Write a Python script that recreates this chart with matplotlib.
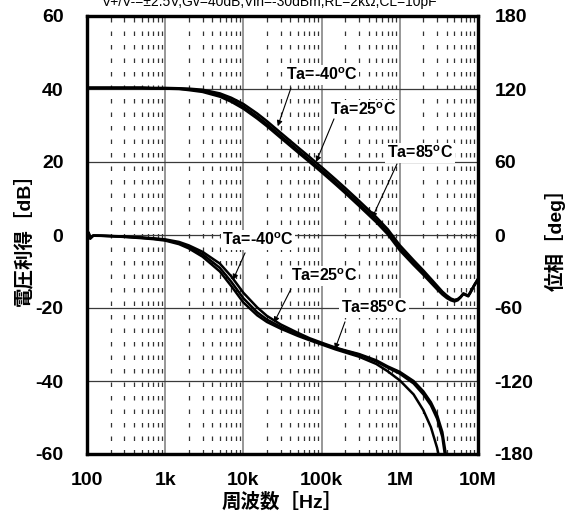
import matplotlib
matplotlib.use("Agg")
import matplotlib.pyplot as plt
from matplotlib.ticker import LogLocator, FixedLocator, FixedFormatter, NullFormatter

plt.rcParams['font.family'] = ['Liberation Sans', 'Noto Sans CJK JP', 'DejaVu Sans']
plt.rcParams['font.weight'] = 'bold'
plt.rcParams['axes.unicode_minus'] = False
plt.rcParams['mathtext.fontset'] = 'custom'
plt.rcParams['mathtext.rm'] = 'Liberation Sans:bold'
plt.rcParams['mathtext.bf'] = 'Liberation Sans:bold'

# ---- open-loop gain [dB] ----
freq_gain = [100, 150, 200, 300, 500, 700, 1e3, 1.5e3, 2e3, 3e3, 5e3, 7e3, 1e4, 1.5e4,
             2e4, 3e4, 5e4, 7e4, 1e5, 1.5e5, 2e5, 3e5, 5e5, 7e5, 1e6, 1.5e6, 2e6,
             2.5e6, 3e6, 3.5e6, 4e6, 4.5e6, 5e6, 5.5e6, 6e6, 6.5e6, 7e6, 7.5e6, 8e6,
             9e6, 1e7]
gain_m40 = [40.4, 40.4, 40.4, 40.4, 40.4, 40.3, 40.3, 40.2, 40.1, 39.8, 38.8, 37.6, 35.9,
            33.3, 31.2, 28.0, 24.0, 21.4, 18.6, 15.3, 12.9, 9.4, 4.9, 1.6, -2.8, -6.9,
            -9.7, -12.0, -13.9, -15.5, -16.6, -17.4, -17.8, -17.6, -17.0, -16.2, -16.5,
            -16.8, -15.8, -13.8, -12.2]
gain_25 = [40.3, 40.3, 40.3, 40.3, 40.3, 40.2, 40.2, 40.1, 39.9, 39.5, 38.3, 37.0, 35.2,
           32.5, 30.4, 27.2, 23.2, 20.6, 17.8, 14.5, 12.1, 8.6, 4.1, 0.8, -3.6, -7.6,
           -10.3, -12.6, -14.4, -15.9, -16.9, -17.6, -17.9, -17.6, -16.9, -16.0, -16.3,
           -16.6, -15.6, -13.6, -12.0]
gain_85 = [40.2, 40.2, 40.2, 40.2, 40.2, 40.1, 40.1, 40.0, 39.7, 39.2, 37.9, 36.5, 34.6,
           31.9, 29.8, 26.6, 22.6, 20.0, 17.2, 13.9, 11.5, 8.0, 3.5, 0.2, -4.2, -8.2,
           -10.9, -13.1, -14.9, -16.3, -17.3, -17.9, -18.2, -17.9, -17.1, -16.1, -16.4,
           -16.7, -15.7, -13.7, -12.1]

# ---- phase [deg] ----
freq_phase = [100, 105, 110, 120, 150, 200, 300, 500, 700, 1e3, 1.5e3, 2e3, 3e3, 5e3,
              7e3, 1e4, 1.5e4, 2e4, 3e4, 5e4, 7e4, 1e5, 1.5e5, 2e5, 3e5, 5e5, 7e5, 1e6,
              1.5e6, 2e6, 2.5e6, 3e6, 3.5e6, 4e6]
phase_m40 = [0, 2.0, -2.5, -0.4, -0.5, -0.8, -1.2, -2.0, -2.7, -3.6, -5.7, -8.5, -13.8,
             -23.5, -34, -47.5, -59.5, -66.5, -73.5, -80.5, -84.8, -88.5, -92.5, -94.8,
             -97.8, -103, -108, -112.5, -120, -128.5, -137.5, -148, -162, -186]
phase_25 = [0, 1.8, -2.8, -0.5, -0.6, -0.9, -1.4, -2.3, -3.0, -4.1, -6.6, -9.8, -15.8,
            -27, -38.5, -52, -63.5, -69.5, -75.5, -82, -85.8, -89.2, -93, -95.2, -98.3,
            -104, -109, -114, -122, -131, -140, -151, -166, -192]
phase_85 = [0, 1.6, -3.0, -0.6, -0.7, -1.0, -1.6, -2.6, -3.4, -4.6, -7.5, -11, -17.8,
            -30, -42, -55.5, -66, -71.5, -77, -83, -86.5, -90, -94, -96.5, -100, -106,
            -112, -119.5, -131, -144, -158, -175, -195, -210]

x_ticks = [1e2, 1e3, 1e4, 1e5, 1e6, 1e7]
x_ticklabels = ['100', '1k', '10k', '100k', '1M', '10M']
gain_ticks = [60, 40, 20, 0, -20, -40, -60]
phase_ticks = [180, 120, 60, 0, -60, -120, -180]

fig = plt.figure(figsize=(5.74, 5.12), dpi=100)
ax = fig.add_axes([87 / 574, 58 / 512, 391 / 574, 438 / 512])
ax2 = ax.twinx()

ax.set_xscale('log')
ax.set_xlim(1e2, 1e7)
ax.set_ylim(-60, 60)
ax2.set_ylim(-180, 180)

ax.xaxis.set_major_locator(FixedLocator(x_ticks))
ax.xaxis.set_major_formatter(FixedFormatter(x_ticklabels))
ax.xaxis.set_minor_locator(LogLocator(base=10, subs=[2, 3, 4, 5, 6, 7, 8, 9], numticks=20))
ax.xaxis.set_minor_formatter(NullFormatter())
ax.set_yticks(gain_ticks)
ax2.set_yticks(phase_ticks)

ax.set_axisbelow(True)
ax.xaxis.grid(True, which='major', color='#7a7a7a', lw=1.1)
ax.xaxis.grid(True, which='minor', color='#333333', lw=0.9, linestyle=(0, (3.6, 7.2)))
ax.yaxis.grid(True, which='major', color='#3a3a3a', lw=0.9)

ax.tick_params(which='both', length=0)
ax.tick_params(axis='y', labelsize=14, pad=17)
ax.tick_params(axis='x', labelsize=14, pad=13)
ax2.tick_params(which='both', length=0, labelsize=14, pad=12)

for a in (ax, ax2):
    for s in a.spines.values():
        s.set_linewidth(2.3)

line_kw = dict(color='black', lw=1.8, solid_joinstyle='round')
for g in (gain_m40, gain_25, gain_85):
    ax.plot(freq_gain, g, **line_kw)
for p in (phase_m40, phase_25, phase_85):
    ax2.plot(freq_phase, p, **line_kw)

label_kw = dict(fontsize=11.5, fontweight='bold', ha='center', va='center', zorder=4,
                bbox=dict(facecolor='white', edgecolor='none', pad=1.0))
arrow_kw = dict(arrowstyle='-|>', color='black', lw=0.8, mutation_scale=8,
                shrinkA=0, shrinkB=0)

# (label, text position, arrow tail, arrow head) in gain-axis coordinates
callouts = [
    ('Ta=-40$^{\\mathbf{o}}$C', (1.01e5, 43.8), (4.06e4, 40.3), (2.75e4, 29.8)),
    ('Ta=25$^{\\mathbf{o}}$C', (3.38e5, 34.2), (1.44e5, 31.8), (8.5e4, 20.0)),
    ('Ta=85$^{\\mathbf{o}}$C', (1.81e6, 22.5), (9.2e5, 19.45), (4.42e5, 4.65)),
    ('Ta=-40$^{\\mathbf{o}}$C', (1.54e4, -1.4), (1.05e4, -4.9), (7.36e3, -12.3)),
    ('Ta=25$^{\\mathbf{o}}$C', (1.07e5, -11.2), (4.06e4, -14.8), (2.46e4, -24.0)),
    ('Ta=85$^{\\mathbf{o}}$C', (4.68e5, -20.0), (1.99e5, -23.8), (1.48e5, -31.3)),
]
for text, tpos, tail, head in callouts:
    ax.text(tpos[0], tpos[1], text, **label_kw)
    ax.annotate('', xy=head, xytext=tail, arrowprops=arrow_kw, zorder=4)

ax.set_ylabel('電圧利得［dB］', fontsize=14, fontweight='bold')
ax.yaxis.set_label_coords(-0.138, 0.5)
ax2.set_ylabel('位相［deg］', fontsize=14, fontweight='bold')
ax2.yaxis.set_label_coords(1.171, 0.5)
ax.set_xlabel('周波数［Hz］', fontsize=14, fontweight='bold', va='top')
ax.xaxis.set_label_coords(0.5, -0.089)

fig.text(270 / 574, 1 - 6 / 512, 'V+/V-=±2.5V,Gv=40dB,Vin=-30dBm,RL=2kΩ,CL=10pF',
         fontsize=10, fontweight='normal', ha='center', va='baseline')

fig.savefig('out.png', dpi=100)
